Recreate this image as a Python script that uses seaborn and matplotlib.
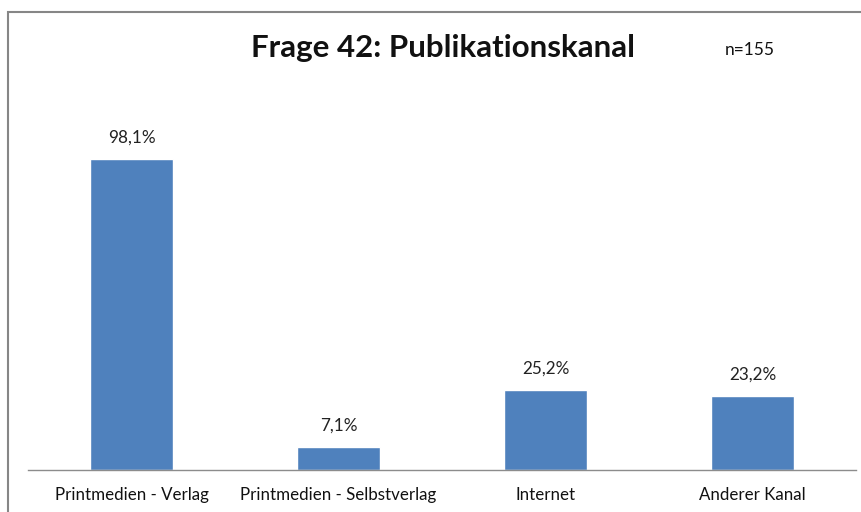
import matplotlib
matplotlib.use("Agg")
import matplotlib.pyplot as plt
import seaborn as sns
import pandas as pd
from matplotlib.patches import Rectangle

sns.set_theme(style="white")
plt.rcParams['font.family'] = ['Lato', 'DejaVu Sans']

# data
categories = ["Printmedien - Verlag", "Printmedien - Selbstverlag", "Internet", "Anderer Kanal"]
values = [98.1, 7.1, 25.2, 23.2]
value_labels = ["98,1%", "7,1%", "25,2%", "23,2%"]
title = "Frage 42: Publikationskanal"
n_label = "n=155"

df = pd.DataFrame({"Kanal": categories, "Anteil": values})

W, H = 862, 512
fig = plt.figure(figsize=(W / 100, H / 100), dpi=100)
ax = fig.add_axes([28 / W, 42 / H, 828 / W, 420 / H])

sns.barplot(data=df, x="Kanal", y="Anteil", color="#4F81BD", saturation=1,
            width=0.4, ax=ax)
ax.set_ylim(0, 420 / 3.17)
ax.set_xlim(-0.5, 3.5)

for i, (v, lab) in enumerate(zip(values, value_labels)):
    ax.text(i, v + 4.3, lab, ha="center", va="bottom", fontsize=12.3, color="#222222")

for s in ["top", "right", "left"]:
    ax.spines[s].set_visible(False)
ax.spines["bottom"].set_color("#8c8c8c")
ax.spines["bottom"].set_linewidth(1)
ax.set_yticks([])
ax.set_xlabel("")
ax.set_ylabel("")
ax.tick_params(axis="x", length=0, pad=12, labelsize=12.2, labelcolor="#111111")

fig.text(443 / W, 1 - 48 / H, title, ha="center", va="center",
         fontsize=22.5, fontweight="bold", color="#111111")
fig.text(750 / W, 1 - 50 / H, n_label, ha="center", va="center",
         fontsize=12.5, color="#111111")

# outer chart border
fig.patches.append(Rectangle((8 / W, -0.1), 1.2, 1 - 12 / H + 0.1,
                             transform=fig.transFigure, fill=False,
                             edgecolor="#868686", linewidth=1.5))

fig.savefig("out.png", dpi=100)
